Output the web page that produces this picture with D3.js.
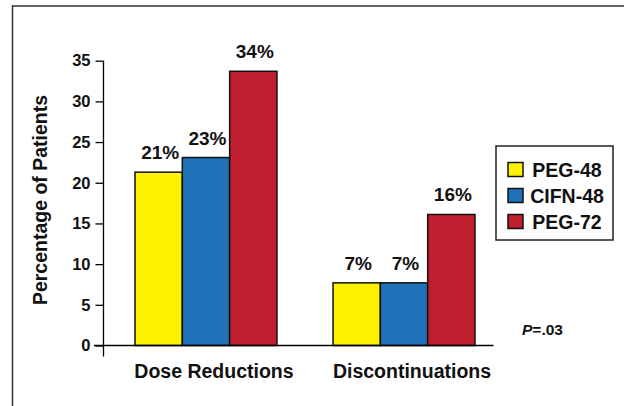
<!DOCTYPE html>
<html>
<head>
<meta charset="utf-8">
<script src="https://cdn.jsdelivr.net/npm/d3@7/dist/d3.min.js"></script>
<style>
  html, body { margin: 0; padding: 0; background: #fff; }
  svg { display: block; font-family: "Liberation Sans", Arial, sans-serif; }
</style>
</head>
<body>
<svg id="chart" width="624" height="406"></svg>
<script>
const categories = ["Dose Reductions", "Discontinuations"];
const series = ["PEG-48", "CIFN-48", "PEG-72"];
const seriesColors = ["#FFF200", "#1F72B8", "#BE1E2D"];
const peg48 = [21.3, 7.7];
const cifn48 = [23.1, 7.7];
const peg72 = [33.7, 16.1];
const valueLabels = [["21%", "7%"], ["23%", "7%"], ["34%", "16%"]];
const yTicks = [0, 5, 10, 15, 20, 25, 30, 35];
const yTitle = "Percentage of Patients";
const pNote = ".03";

const values = [peg48, cifn48, peg72];

const svg = d3.select("#chart");

// outer frame
svg.append("rect")
  .attr("x", 12.5).attr("y", 6)
  .attr("width", 700).attr("height", 500)
  .attr("fill", "none").attr("stroke", "#333").attr("stroke-width", 1.5);

const y = d3.scaleLinear().domain([0, 35]).range([345.5, 60.7]);
const x0 = d3.scaleBand().domain(categories).range([107, 503])
  .paddingInner(0.283).paddingOuter(0.1414);
const x1 = d3.scaleBand().domain(series).range([0, x0.bandwidth()]).padding(0);

// y axis
const yAxis = d3.axisLeft(y).tickValues(yTicks).tickSize(8).tickPadding(5);
const gy = svg.append("g").attr("transform", "translate(103.5,0)").call(yAxis);
gy.select(".domain").remove();
gy.selectAll(".tick line").attr("stroke", "#000").attr("stroke-width", 1.3);
gy.selectAll(".tick text")
  .attr("font-size", 16.5).attr("font-weight", "bold")
  .attr("font-family", "'Liberation Sans', Arial, sans-serif").attr("fill", "#111");
gy.append("line")
  .attr("x1", 0).attr("x2", 0)
  .attr("y1", y(35)).attr("y2", y(0) + 11)
  .attr("stroke", "#000").attr("stroke-width", 1.3);

// bars
const groups = svg.append("g").selectAll("g")
  .data(categories).join("g")
  .attr("transform", d => `translate(${x0(d)},0)`);

groups.each(function(cat, ci) {
  const g = d3.select(this);
  series.forEach((s, si) => {
    const v = values[si][ci];
    g.append("rect")
      .attr("x", x1(s)).attr("y", y(v))
      .attr("width", x1.bandwidth()).attr("height", y(0) - y(v))
      .attr("fill", seriesColors[si]).attr("stroke", "#111").attr("stroke-width", 1.5);
    g.append("text")
      .attr("x", x1(s) + x1.bandwidth() / 2 + 1.5)
      .attr("y", y(v) - 13)
      .attr("text-anchor", "middle")
      .attr("font-size", 19).attr("font-weight", "bold").attr("fill", "#111")
      .text(valueLabels[si][ci]);
  });
});

// baseline
svg.append("line")
  .attr("x1", 94).attr("x2", 493.5)
  .attr("y1", y(0)).attr("y2", y(0))
  .attr("stroke", "#000").attr("stroke-width", 1.3);

// category labels
svg.append("g").selectAll("text")
  .data(categories).join("text")
  .attr("x", d => x0(d) + x0.bandwidth() / 2 + 8)
  .attr("y", 378)
  .attr("text-anchor", "middle")
  .attr("font-size", 19.5).attr("font-weight", "bold").attr("fill", "#111")
  .text(d => d);

// y title
svg.append("text")
  .attr("transform", "translate(47,200) rotate(-90)")
  .attr("text-anchor", "middle")
  .attr("font-size", 19.5).attr("font-weight", "bold").attr("fill", "#111")
  .text(yTitle);

// legend
const lg = svg.append("g");
lg.append("rect")
  .attr("x", 496).attr("y", 146).attr("width", 117).attr("height", 94)
  .attr("fill", "#fff").attr("stroke", "#222").attr("stroke-width", 1.5);
series.forEach((s, i) => {
  const cy = 169.5 + i * 26;
  lg.append("rect")
    .attr("x", 508).attr("y", cy - 7).attr("width", 15).attr("height", 14)
    .attr("fill", seriesColors[i]).attr("stroke", "#111").attr("stroke-width", 1.5);
  lg.append("text")
    .attr("x", 567).attr("y", cy + 7)
    .attr("text-anchor", "middle")
    .attr("font-size", 19.5).attr("font-weight", "bold").attr("fill", "#111")
    .text(s);
});

// p value
const pt = svg.append("text")
  .attr("x", 522).attr("y", 334.5)
  .attr("font-size", 15.5).attr("font-weight", "bold").attr("fill", "#111");
pt.append("tspan").attr("font-style", "italic").text("P");
pt.append("tspan").text("=" + pNote);
</script>
</body>
</html>
